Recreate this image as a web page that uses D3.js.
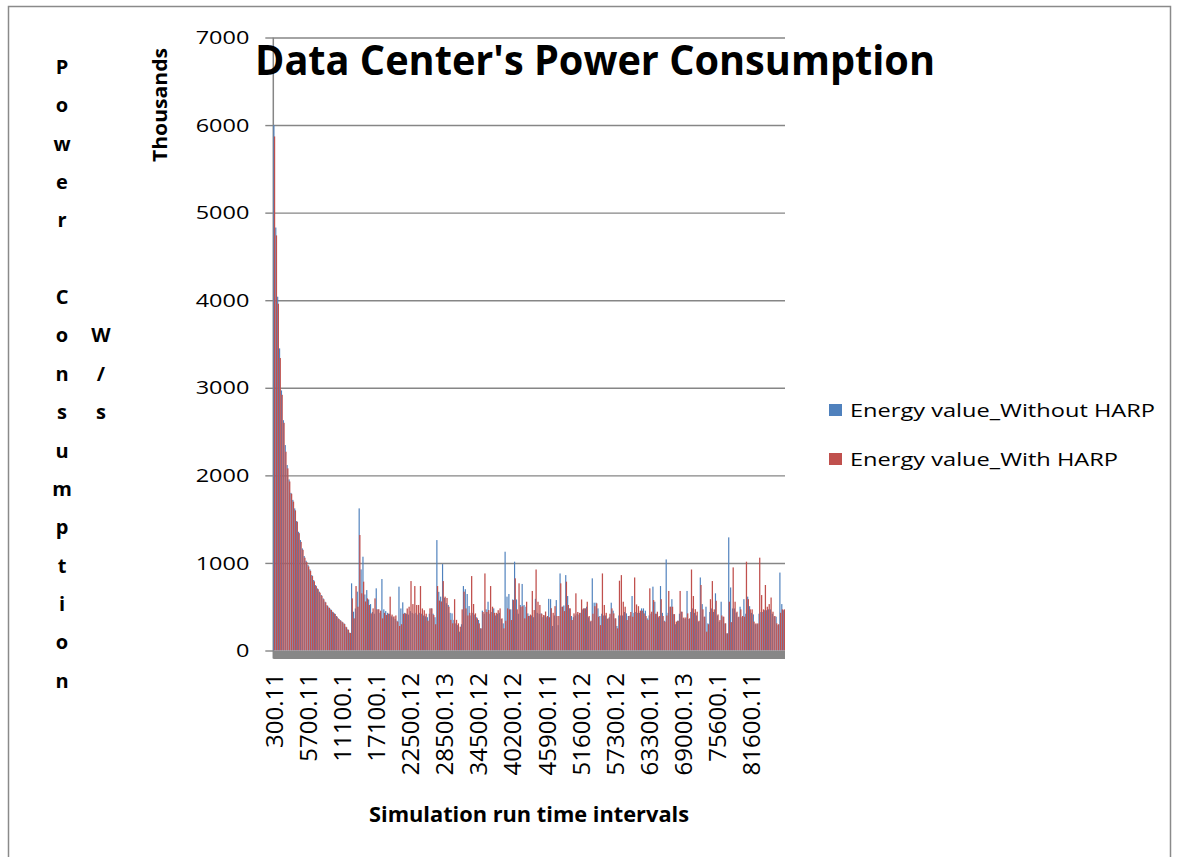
<!DOCTYPE html>
<html>
<head>
<meta charset="utf-8">
<script src="https://cdn.jsdelivr.net/npm/d3@7"></script>
<style>
  html, body { margin: 0; padding: 0; background: #fff; }
  svg { display: block; }
  text { font-family: "Open Sans", "Noto Sans", sans-serif; fill: #000; }
</style>
</head>
<body>
<div id="chart"></div>
<script>
// tick labels shown under the x axis (every 18th interval)
const tickLabels = ["300.11", "5700.11", "11100.1", "17100.1", "22500.12", "28500.13", "34500.12",
  "40200.12", "45900.11", "51600.12", "57300.12", "63300.11", "69000.13", "75600.1", "81600.11"];
const labelEvery = 18;

const yTicks = [0, 1000, 2000, 3000, 4000, 5000, 6000, 7000];
const seriesNames = ["Energy value_Without HARP", "Energy value_With HARP"];

// values in thousands
const withoutHarp = [
  6000, 4830, 4040, 3450, 2970, 2630, 2346, 2118, 1954, 1800, 1720, 1623, 1478, 1356, 1261, 1166, 1079, 1025, 976, 927,
  862, 805, 747, 709, 672, 634, 595, 557, 519, 493, 470, 443, 424, 394, 367, 348, 329, 310, 272, 242,
  204, 767, 443, 480, 672, 1623, 926, 1071, 640, 690, 583, 530, 440, 420, 710, 470, 430, 816, 470, 450,
  430, 420, 390, 380, 360, 340, 729, 480, 550, 430, 420, 410, 450, 430, 420, 430, 410, 430, 420, 400,
  390, 380, 420, 481, 420, 380, 1261, 670, 615, 987, 600, 540, 520, 430, 424, 350, 310, 290, 215, 300,
  736, 700, 645, 508, 400, 430, 410, 380, 348, 253, 455, 420, 470, 557, 420, 440, 481, 400, 420, 430,
  360, 310, 1128, 615, 645, 470, 583, 1014, 583, 420, 520, 760, 520, 500, 424, 394, 400, 380, 590, 430,
  420, 424, 380, 400, 380, 590, 586, 280, 400, 576, 290, 880, 500, 514, 861, 622, 481, 394, 380, 400,
  420, 410, 430, 470, 481, 500, 380, 330, 824, 546, 546, 481, 394, 420, 400, 400, 360, 380, 546, 455,
  367, 280, 400, 400, 400, 440, 424, 394, 400, 622, 430, 440, 430, 430, 481, 481, 455, 367, 400, 420,
  729, 557, 420, 380, 736, 430, 340, 1040, 430, 500, 586, 415, 300, 340, 420, 443, 370, 360, 680, 360,
  440, 480, 430, 400, 330, 834, 530, 386, 500, 310, 440, 480, 440, 653, 400, 330, 557, 386, 310, 196,
  1292, 720, 480, 480, 430, 380, 500, 380, 586, 420, 615, 506, 430, 412, 300, 300, 420, 440, 440, 460,
  460, 470, 470, 420, 390, 386, 290, 890, 530, 460
];
const withHarp = [
  5870, 4740, 3960, 3340, 2920, 2600, 2270, 2080, 1930, 1790, 1700, 1600, 1470, 1340, 1240, 1150, 1060, 1010, 960, 910,
  850, 790, 735, 700, 660, 625, 585, 550, 510, 485, 462, 435, 416, 386, 360, 340, 322, 302, 265, 236,
  200, 595, 367, 736, 500, 1319, 653, 786, 560, 595, 520, 424, 481, 595, 470, 470, 455, 367, 430, 405,
  420, 615, 410, 390, 400, 330, 280, 300, 420, 424, 480, 500, 793, 530, 736, 520, 520, 736, 480, 460,
  420, 340, 481, 481, 405, 300, 736, 570, 560, 793, 615, 600, 500, 350, 310, 586, 350, 310, 272, 470,
  672, 480, 400, 430, 850, 531, 424, 367, 310, 253, 440, 880, 440, 462, 736, 500, 430, 430, 460, 481,
  367, 253, 340, 481, 470, 348, 576, 824, 470, 767, 500, 506, 367, 557, 394, 410, 680, 462, 925, 557,
  520, 420, 405, 445, 394, 380, 483, 430, 506, 394, 394, 767, 500, 450, 786, 520, 481, 348, 424, 653,
  440, 430, 583, 481, 481, 557, 394, 340, 420, 506, 538, 386, 290, 880, 520, 430, 367, 420, 481, 424,
  367, 253, 797, 861, 557, 500, 348, 394, 440, 386, 834, 526, 506, 455, 455, 424, 394, 350, 710, 443,
  576, 420, 443, 394, 586, 394, 330, 400, 680, 500, 500, 415, 330, 340, 680, 443, 377, 377, 424, 367,
  925, 622, 472, 443, 340, 748, 470, 386, 215, 300, 586, 793, 470, 568, 412, 348, 400, 386, 310, 196,
  557, 324, 949, 557, 443, 386, 470, 394, 386, 1014, 586, 470, 470, 330, 310, 310, 1060, 633, 470, 748,
  500, 530, 605, 443, 394, 310, 300, 430, 470, 470
];

const colors = ["#4F81BD", "#C0504D"];
const gridColor = "#868686";

const W = 1178, H = 857;
const plotLeft = 273.3, plotRight = 785, plotTop = 37.5, plotBottom = 650.5;

const svg = d3.select("#chart").append("svg")
  .attr("width", W)
  .attr("height", H);

svg.append("rect").attr("width", W).attr("height", H).attr("fill", "#fff");

// outer chart border
svg.append("rect")
  .attr("x", 8.5).attr("y", 6.5)
  .attr("width", 1162).attr("height", 880)
  .attr("fill", "none")
  .attr("stroke", "#8a8a8a")
  .attr("stroke-width", 1.5);

const N = withoutHarp.length;
const x = d3.scaleBand().domain(d3.range(N)).range([plotLeft, plotRight]);
const y = d3.scaleLinear().domain([0, 7000]).range([plotBottom, plotTop]);
const bw = x.bandwidth();

// gridlines
svg.append("g")
  .attr("transform", "translate(" + plotLeft + ",0)")
  .call(d3.axisLeft(y).tickValues(yTicks.slice(1)).tickSize(-(plotRight - plotLeft)).tickFormat(""))
  .call(g => g.select(".domain").remove())
  .call(g => g.selectAll("line").attr("stroke", gridColor).attr("stroke-width", 1.4));

// y axis with tick marks and labels
const yAxis = svg.append("g")
  .attr("transform", "translate(" + plotLeft + ",0)")
  .call(d3.axisLeft(y).tickValues(yTicks).tickSize(8).tickSizeOuter(0).tickPadding(16).tickFormat(d3.format("d")));
yAxis.select(".domain").remove();
yAxis.selectAll("line").attr("stroke", gridColor).attr("stroke-width", 1.4);
yAxis.selectAll("text")
  .attr("font-size", 19)
  .attr("font-family", "Open Sans")
  .attr("fill", "#000")
  .attr("textLength", d => String(d).length * 13.4)
  .attr("lengthAdjust", "spacingAndGlyphs");

svg.append("line")
  .attr("x1", plotLeft).attr("x2", plotLeft)
  .attr("y1", plotTop).attr("y2", plotBottom + 8)
  .attr("stroke", gridColor).attr("stroke-width", 1.5);

// bars: blue first, red drawn over with a small offset
svg.append("g").selectAll("rect")
  .data(withoutHarp)
  .join("rect")
  .attr("x", (d, i) => x(i))
  .attr("width", 0.62 * bw)
  .attr("y", d => y(d))
  .attr("height", d => y(0) - y(d))
  .attr("fill", colors[0]);

svg.append("g").selectAll("rect")
  .data(withHarp)
  .join("rect")
  .attr("x", (d, i) => x(i) + 0.33 * bw)
  .attr("width", 0.67 * bw)
  .attr("y", d => y(d))
  .attr("height", d => y(0) - y(d))
  .attr("fill", colors[1]);

// grey floor under the bars
svg.append("rect")
  .attr("x", plotLeft).attr("y", plotBottom)
  .attr("width", plotRight - plotLeft).attr("height", 8.5)
  .attr("fill", "#878787");

// x tick labels, rotated
svg.append("g").selectAll("text")
  .data(tickLabels)
  .join("text")
  .attr("transform", (d, i) => "translate(" + (x(i * labelEvery) + bw / 2) + ",673) rotate(-90)")
  .attr("text-anchor", "end")
  .attr("dy", "0.35em")
  .attr("font-size", 24)
  .text(d => d);

// title
svg.append("text")
  .attr("x", 255).attr("y", 75)
  .attr("font-size", 41)
  .attr("font-weight", "bold")
  .attr("textLength", 680)
  .attr("lengthAdjust", "spacingAndGlyphs")
  .text("Data Center's Power Consumption");

// x axis title
svg.append("text")
  .attr("x", 369).attr("y", 822)
  .attr("font-size", 21)
  .attr("font-weight", "bold")
  .attr("textLength", 320)
  .attr("lengthAdjust", "spacingAndGlyphs")
  .text("Simulation run time intervals");

// "Thousands" display unit
svg.append("text")
  .attr("transform", "translate(167,105) rotate(-90)")
  .attr("text-anchor", "middle")
  .attr("font-size", 19)
  .attr("font-weight", "bold")
  .attr("textLength", 114)
  .attr("lengthAdjust", "spacingAndGlyphs")
  .text("Thousands");

// stacked y axis title letters
const yTitle = "Power Consumption".split("");
svg.append("g").selectAll("text")
  .data(yTitle)
  .join("text")
  .attr("x", 62)
  .attr("y", (d, i) => 67 + i * 38.35)
  .attr("dy", "0.35em")
  .attr("text-anchor", "middle")
  .attr("font-size", 20)
  .attr("font-weight", "bold")
  .text(d => d);

const unitLetters = "W/s".split("");
svg.append("g").selectAll("text")
  .data(unitLetters)
  .join("text")
  .attr("x", 101)
  .attr("y", (d, i) => 67 + (i + 7) * 38.35)
  .attr("dy", "0.35em")
  .attr("text-anchor", "middle")
  .attr("font-size", 20)
  .attr("font-weight", "bold")
  .text(d => d);

// legend
const legend = svg.append("g").selectAll("g")
  .data(seriesNames)
  .join("g")
  .attr("transform", (d, i) => "translate(829," + (404 + i * 49) + ")");
legend.append("rect")
  .attr("width", 13).attr("height", 12)
  .attr("fill", (d, i) => colors[i]);
legend.append("text")
  .attr("x", 21).attr("y", 6)
  .attr("dy", "0.36em")
  .attr("font-size", 19)
  .attr("textLength", (d, i) => i === 0 ? 305 : 268)
  .attr("lengthAdjust", "spacingAndGlyphs")
  .text(d => d);
</script>
</body>
</html>
